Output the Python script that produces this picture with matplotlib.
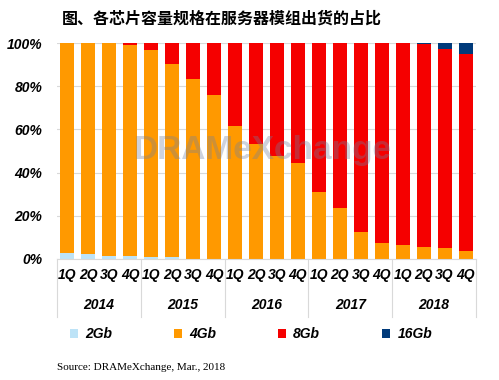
import numpy as np
import matplotlib
matplotlib.use("Agg")
import matplotlib.pyplot as plt

# data (share of shipments, %)
quarters = ["1Q", "2Q", "3Q", "4Q"]
years = ["2014", "2015", "2016", "2017", "2018"]
series_names = ["2Gb", "4Gb", "8Gb", "16Gb"]

gb8 = [0, 0, 0, 1.0, 2.9, 9.4, 16.4, 23.9,
       38.3, 46.7, 52.2, 55.5, 69.0, 76.4, 87.6, 92.7,
       93.6, 94.1, 92.4, 91.4]
gb16 = [0, 0, 0, 0, 0, 0, 0, 0,
        0, 0, 0, 0, 0, 0, 0, 0,
        0, 0.5, 2.6, 5.0]
gb2 = [2.8, 2.3, 1.4, 1.4, 0.9, 0.9, 0, 0,
       0, 0, 0, 0, 0, 0, 0, 0,
       0, 0, 0, 0]
gb4 = [100 - a - b - c for a, b, c in zip(gb2, gb8, gb16)]

colors = ["#BDE3F7", "#FF9900", "#F50000", "#003A7A"]

plt.rcParams['font.family'] = ['Liberation Sans', 'DejaVu Sans']

fig = plt.figure(figsize=(4.99, 3.8), dpi=100)
ax = fig.add_axes([57 / 499, (380 - 258.7) / 380, (476 - 57) / 499, 215.4 / 380])

x = np.arange(len(gb2))
bottom = np.zeros(len(x))
handles = []
for vals, col, name in zip([gb2, gb4, gb8, gb16], colors, series_names):
    b = ax.bar(x, vals, 0.67, bottom=bottom, color=col, label=name, zorder=2)
    handles.append(b)
    bottom += np.array(vals)

ax.set_xlim(-0.5, len(x) - 0.5)
ax.set_ylim(0, 100)
ax.set_yticks([0, 20, 40, 60, 80, 100])
ax.set_yticklabels([f"{v}%" for v in [0, 20, 40, 60, 80, 100]],
                   fontsize=10, fontweight='bold', fontstyle='italic')
ax.tick_params(axis='y', length=0, pad=10.5)
ax.grid(axis='y', color='#D9D9D9', linewidth=0.8, zorder=0)
for s in ['top', 'right', 'left']:
    ax.spines[s].set_visible(False)
ax.spines['bottom'].set_color('#D9D9D9')
ax.set_xticks([])

trans = ax.get_xaxis_transform()
for i in x:
    ax.text(i, -0.076, quarters[i % 4], transform=trans, ha='center', va='center',
            fontsize=10, fontweight='bold', fontstyle='italic')
for k, yr in enumerate(years):
    ax.text(4 * k + 1.5, -0.215, yr, transform=trans, ha='center', va='center',
            fontsize=10, fontweight='bold', fontstyle='italic')
for k in range(len(years) + 1):
    ax.plot([4 * k - 0.5, 4 * k - 0.5], [0, -0.27], transform=trans,
            color='#D9D9D9', linewidth=0.8, clip_on=False)

# watermark
ax.text(0.49, 0.5, "DRAMeXchange", transform=ax.transAxes, ha='center', va='center',
        fontsize=24, fontweight='bold', color='#7080A0', alpha=0.35, zorder=3)

fig.text(62 / 499, 1 - 19 / 380, "图、各芯片容量规格在服务器模组出货的占比",
         family=['Noto Sans CJK SC', 'DejaVu Sans'], fontweight='bold',
         fontsize=11.5, ha='left', va='center')

fig.legend(handles=handles, labels=series_names, loc='center',
           bbox_to_anchor=(251 / 499, 1 - 334 / 380), ncol=4, frameon=False,
           handlelength=0.6, handleheight=0.6, handletextpad=0.5,
           columnspacing=4.45,
           prop={'size': 10, 'weight': 'bold', 'style': 'italic'})

fig.text(57 / 499, 1 - 368 / 380, "Source: DRAMeXchange, Mar., 2018",
         family='Liberation Serif', fontsize=8, ha='left', va='center')

fig.savefig("out.png", dpi=100)
